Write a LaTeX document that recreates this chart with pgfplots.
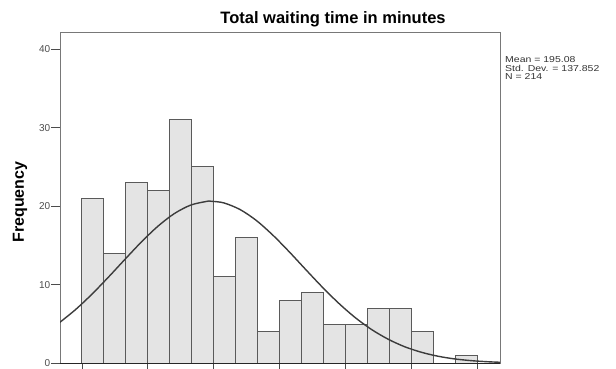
\documentclass[border=0pt]{standalone}
\usepackage{fontspec}
\setmainfont{Liberation Sans}
\newfontfamily\statfont[FakeStretch=1.22]{Liberation Sans}
\usepackage{pgfplots}
\pgfplotsset{compat=1.18}
\definecolor{barfill}{RGB}{228,228,228}
\definecolor{baredge}{RGB}{90,90,90}
\definecolor{curvec}{RGB}{60,60,60}
\definecolor{boxc}{RGB}{120,120,120}
\begin{document}
\begin{tikzpicture}[x=1pt,y=1pt]
\useasboundingbox (0,0) rectangle (616,369);
\begin{axis}[
  at={(60pt,5.7pt)}, anchor=south west,
  scale only axis, width=440pt, height=330.6pt,
  xmin=-33.3, xmax=634, ymin=0, ymax=42.1,
  axis line style={boxc, line width=1pt},
  xtick={0,100,...,600}, xticklabels={},
  ytick={0,10,20,30,40},
  tick pos=left, tick align=outside, major tick length=9pt,
  tick style={black!70, line width=0.9pt},
  /pgf/number format/assume math mode=true,
  ticklabel style={font=\fontsize{10}{10}\selectfont, text=black!70},
  yticklabel style={inner xsep=0.5pt},
]
\addplot[ybar interval, fill=barfill, draw=baredge, line width=1pt] coordinates {
(0,21) (33.33,14) (66.67,23) (100,22) (133.33,31) (166.67,25)
(200,11) (233.33,16) (266.67,4) (300,8) (333.33,9) (366.67,5)
(400,5) (433.33,7) (466.67,7) (500,4) (533.33,0) (566.67,1) (600,0)
};
\addplot[curvec, line width=1.4pt, smooth] coordinates {
(-35,5.12) (-10,6.82) (15,8.79) (40,10.96) (65,13.22) (90,15.44)
(115,17.44) (140,19.06) (165,20.15) (190,20.63) (195.08,20.64)
(215,20.43) (240,19.57) (265,18.15) (290,16.28) (315,14.14)
(340,11.88) (365,9.66) (390,7.60) (415,5.78) (440,4.26) (465,3.04)
(490,2.09) (515,1.40) (540,0.90) (565,0.56) (590,0.34) (615,0.20)
(640,0.11)
};
\draw[black!85, line width=1.3pt] (axis cs:-33.3,0) -- (axis cs:634,0);
\end{axis}
\node[font=\bfseries\fontsize{16.5}{16.5}\selectfont, anchor=base] at (333,345) {Total waiting time in minutes};
\node[rotate=90, font=\bfseries\fontsize{16}{16}\selectfont] at (20,167) {Frequency};
\begin{scope}[every node/.style={anchor=base west, inner sep=0pt, font=\statfont\fontsize{8.6}{8.6}\selectfont, text=black!80}]
\node at (505,306.5) {Mean = 195.08};
\node at (505,297.8) {Std. Dev. = 137.852};
\node at (505,289.1) {N = 214};
\end{scope}
\end{tikzpicture}
\end{document}
